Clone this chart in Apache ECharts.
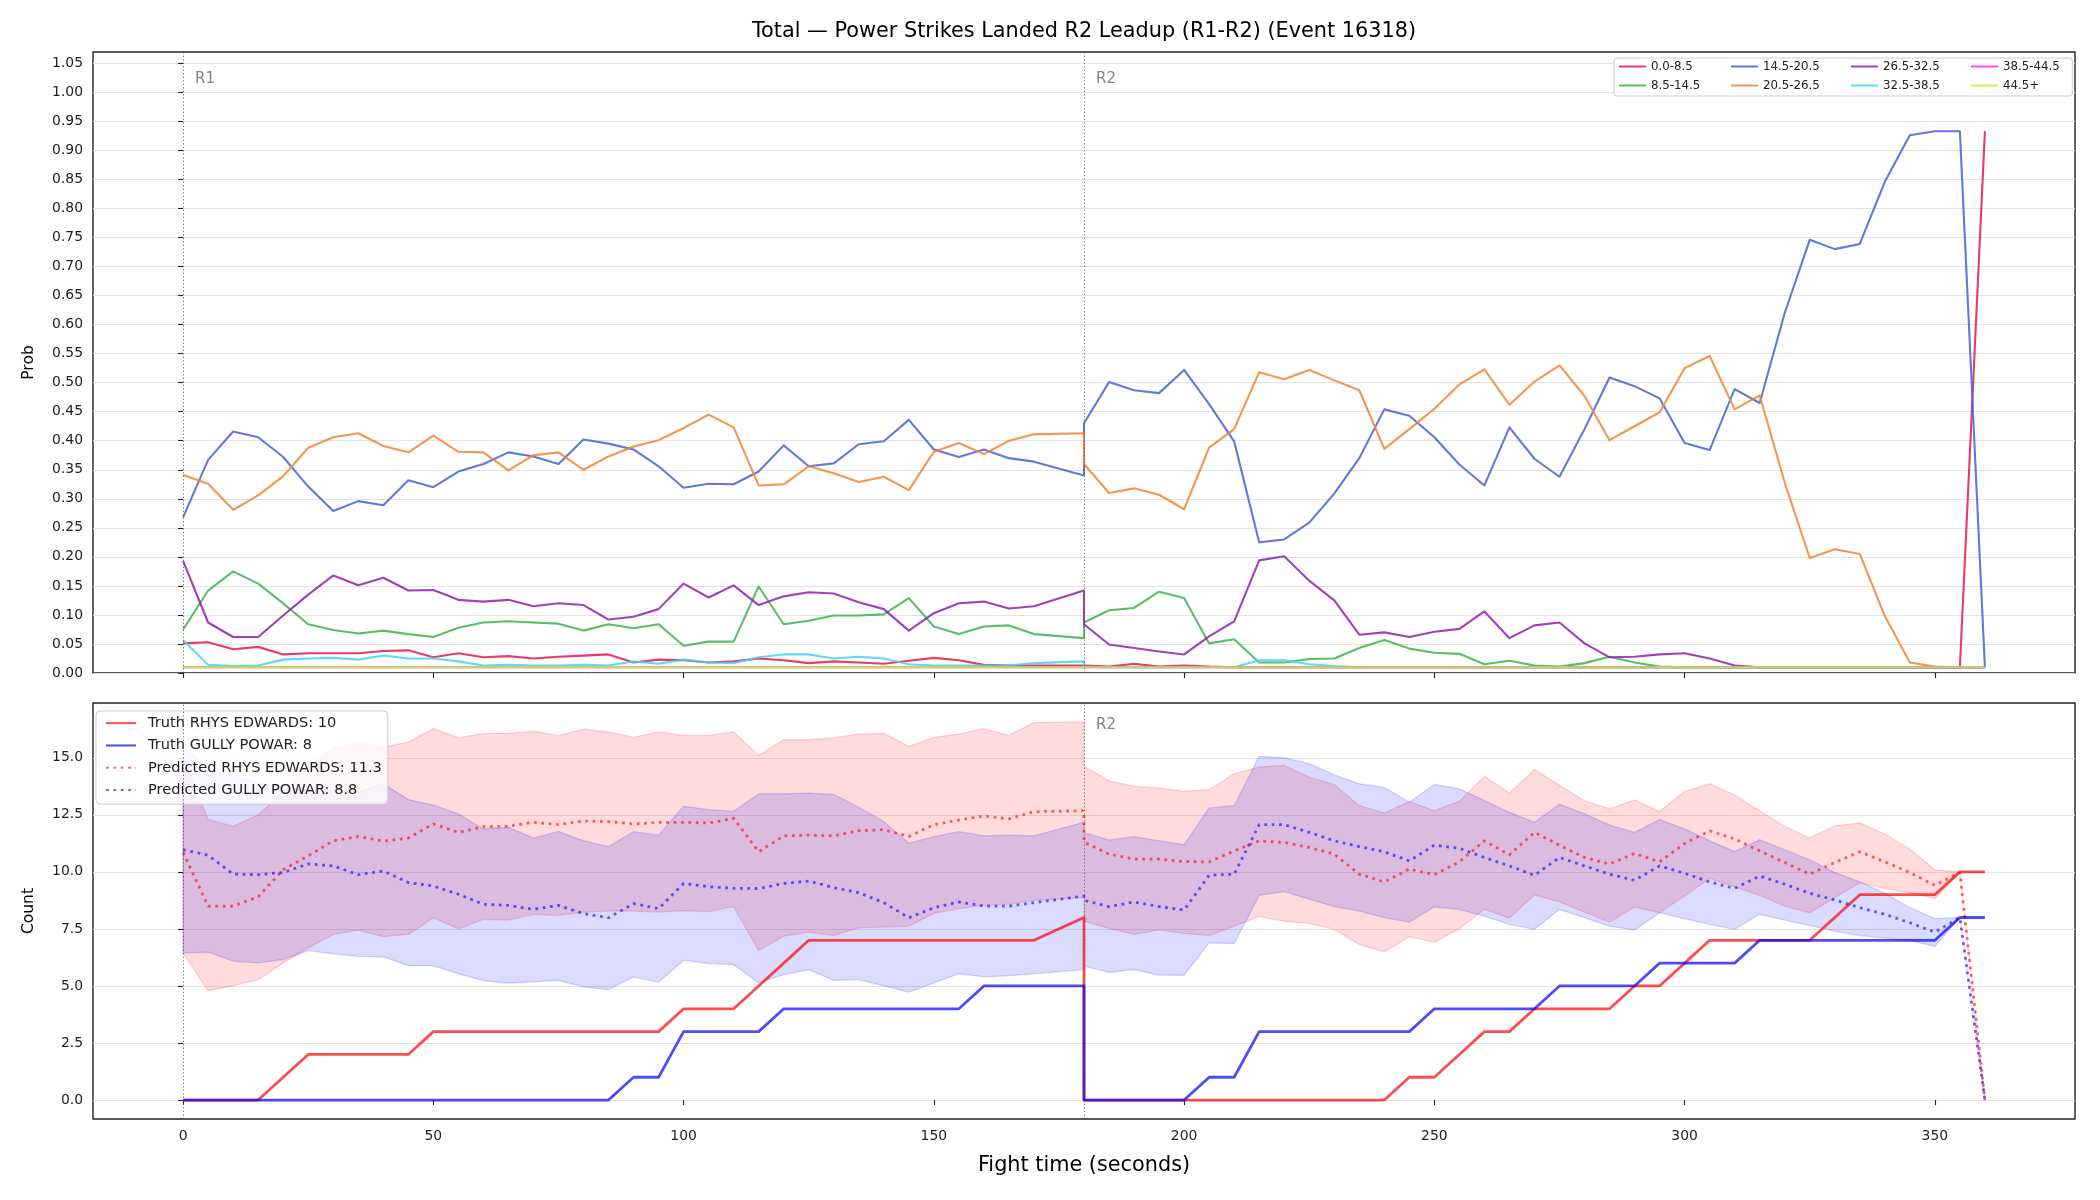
<!DOCTYPE html>
<html>
<head>
<meta charset="utf-8">
<title>Power Strikes Landed R2 Leadup</title>
<script src="https://cdn.jsdelivr.net/npm/echarts@6/dist/echarts.min.js"></script>
<style>
    html, body { margin: 0; padding: 0; background: #fff; }
    #chart_1 { width: 2100px; height: 1200px; }
</style>
</head>
<body>
<div id="chart_1"></div>
<script>
var FONT = 'DejaVu Sans';

// sample times (s): R1 has no sample at 175, R2 restarts at 180
var r1Times = [0,5,10,15,20,25,30,35,40,45,50,55,60,65,70,75,80,85,90,95,
    100,105,110,115,120,125,130,135,140,145,150,155,160,165,170,180];
var r2Times = [180,185,190,195,200,205,210,215,220,225,230,235,240,245,250,255,260,265,270,275,
    280,285,290,295,300,305,310,315,320,325,330,335,340,345,350,355,360];
var times = r1Times.concat(r2Times);

var xTicks = [0, 50, 100, 150, 200, 250, 300, 350];
var probTicks = [0, 0.05, 0.1, 0.15, 0.2, 0.25, 0.3, 0.35, 0.4, 0.45, 0.5, 0.55, 0.6, 0.65, 0.7,
    0.75, 0.8, 0.85, 0.9, 0.95, 1.0, 1.05];
var countTicks = [0, 2.5, 5, 7.5, 10, 12.5, 15];

var roundStarts = [0, 180];
var roundNames = ['R1', 'R2'];

// ---- top panel: bin probabilities (R1 rows, then R2 rows) ----
var binNames = ['0.0-8.5', '8.5-14.5', '14.5-20.5', '20.5-26.5', '26.5-32.5', '32.5-38.5', '38.5-44.5', '44.5+'];
var binColors = ['#e6194b', '#3cb44b', '#4363d8', '#f58231', '#911eb4', '#42d4f4', '#f032e6', '#bfef45'];

var p00 = [
    0.051,0.053,0.041,0.045,0.032,0.034,0.034,0.034,0.038,0.039,
    0.027,0.034,0.027,0.029,0.025,0.028,0.030,0.032,0.018,0.023,
    0.022,0.018,0.020,0.025,0.022,0.017,0.020,0.018,0.016,0.021,
    0.026,0.022,0.014,0.013,0.013,0.013,
    0.012,0.011,0.016,0.011,0.013,0.011,0.010,0.010,0.010,0.010,
    0.010,0.010,0.010,0.010,0.010,0.010,0.010,0.010,0.010,0.010,
    0.010,0.010,0.010,0.010,0.010,0.010,0.010,0.010,0.010,0.010,
    0.010,0.010,0.010,0.010,0.010,0.010,0.933];
var p08 = [
    0.075,0.142,0.175,0.154,0.120,0.084,0.074,0.068,0.073,0.067,
    0.062,0.078,0.087,0.089,0.087,0.085,0.073,0.084,0.077,0.084,
    0.047,0.054,0.054,0.149,0.084,0.090,0.099,0.099,0.101,0.129,
    0.080,0.067,0.080,0.082,0.067,0.060,
    0.087,0.108,0.112,0.140,0.129,0.051,0.058,0.018,0.018,0.024,
    0.025,0.043,0.057,0.042,0.035,0.033,0.015,0.021,0.013,0.011,
    0.017,0.028,0.018,0.011,0.010,0.010,0.010,0.010,0.010,0.010,
    0.010,0.010,0.010,0.010,0.010,0.010,0.010];
var p14 = [
    0.268,0.367,0.416,0.406,0.372,0.321,0.279,0.296,0.289,0.332,
    0.320,0.347,0.360,0.380,0.373,0.360,0.402,0.395,0.385,0.356,
    0.319,0.326,0.325,0.347,0.392,0.356,0.361,0.394,0.399,0.436,
    0.385,0.372,0.385,0.370,0.364,0.340,
    0.430,0.501,0.487,0.482,0.522,0.463,0.399,0.225,0.230,0.259,
    0.309,0.370,0.454,0.443,0.406,0.359,0.323,0.423,0.369,0.338,
    0.420,0.509,0.494,0.473,0.396,0.384,0.489,0.465,0.620,0.746,
    0.730,0.739,0.846,0.926,0.933,0.933,0.010];
var p20 = [
    0.341,0.326,0.281,0.306,0.339,0.388,0.406,0.413,0.391,0.380,
    0.409,0.381,0.380,0.349,0.375,0.380,0.350,0.373,0.390,0.401,
    0.422,0.445,0.423,0.323,0.325,0.356,0.344,0.329,0.338,0.315,
    0.381,0.396,0.377,0.400,0.411,0.413,
    0.360,0.310,0.318,0.307,0.282,0.388,0.420,0.518,0.506,0.522,
    0.504,0.487,0.386,0.420,0.455,0.497,0.523,0.462,0.502,0.530,
    0.477,0.401,0.425,0.449,0.525,0.546,0.454,0.478,0.328,0.198,
    0.213,0.205,0.098,0.018,0.011,0.010,0.010];
var p26 = [
    0.193,0.087,0.062,0.062,0.099,0.135,0.168,0.151,0.164,0.142,
    0.143,0.126,0.123,0.126,0.115,0.120,0.117,0.092,0.097,0.110,
    0.154,0.130,0.151,0.117,0.132,0.139,0.137,0.122,0.110,0.073,
    0.103,0.120,0.123,0.111,0.115,0.142,
    0.084,0.049,0.043,0.037,0.032,0.063,0.089,0.194,0.201,0.159,
    0.125,0.066,0.070,0.062,0.071,0.076,0.106,0.060,0.082,0.087,
    0.051,0.027,0.028,0.032,0.034,0.025,0.013,0.010,0.010,0.010,
    0.010,0.010,0.010,0.010,0.010,0.010,0.010];
var p32 = [
    0.057,0.014,0.012,0.013,0.023,0.025,0.026,0.023,0.030,0.025,
    0.025,0.020,0.013,0.014,0.013,0.013,0.014,0.013,0.020,0.016,
    0.023,0.018,0.017,0.027,0.032,0.032,0.025,0.028,0.025,0.015,
    0.013,0.013,0.013,0.013,0.017,0.020,
    0.011,0.010,0.010,0.010,0.010,0.010,0.010,0.022,0.022,0.015,
    0.012,0.010,0.010,0.010,0.010,0.010,0.010,0.010,0.010,0.010,
    0.010,0.010,0.010,0.010,0.010,0.010,0.010,0.010,0.010,0.010,
    0.010,0.010,0.010,0.010,0.010,0.010,0.010];
var p38 = [
    0.010,0.010,0.010,0.010,0.010,0.010,0.010,0.010,0.010,0.010,
    0.010,0.010,0.010,0.010,0.010,0.010,0.010,0.010,0.010,0.010,
    0.010,0.010,0.010,0.010,0.010,0.010,0.010,0.010,0.010,0.010,
    0.010,0.010,0.010,0.010,0.010,0.010,
    0.010,0.010,0.010,0.010,0.010,0.010,0.010,0.010,0.010,0.010,
    0.010,0.010,0.010,0.010,0.010,0.010,0.010,0.010,0.010,0.010,
    0.010,0.010,0.010,0.010,0.010,0.010,0.010,0.010,0.010,0.010,
    0.010,0.010,0.010,0.010,0.010,0.010,0.010];
var p44 = [
    0.010,0.010,0.010,0.010,0.010,0.010,0.010,0.010,0.010,0.010,
    0.010,0.010,0.010,0.010,0.010,0.010,0.010,0.010,0.010,0.010,
    0.010,0.010,0.010,0.010,0.010,0.010,0.010,0.010,0.010,0.010,
    0.010,0.010,0.010,0.010,0.010,0.010,
    0.010,0.010,0.010,0.010,0.010,0.010,0.010,0.010,0.010,0.010,
    0.010,0.010,0.010,0.010,0.010,0.010,0.010,0.010,0.010,0.010,
    0.010,0.010,0.010,0.010,0.010,0.010,0.010,0.010,0.010,0.010,
    0.010,0.010,0.010,0.010,0.010,0.010,0.010];

// ---- bottom panel: counts ----
var redName = 'RHYS EDWARDS', blueName = 'GULLY POWAR';
var redFinal = 10, blueFinal = 8, redPredFinal = 11.3, bluePredFinal = 8.8;

var truthRed = [
    0,0,0,0,1,2,2,2,2,2, 3,3,3,3,3,3,3,3,3,3, 4,4,4,5,6,7,7,7,7,7, 7,7,7,7,7,8,
    0,0,0,0,0,0,0,0,0,0, 0,0,0,1,1,2,3,3,4,4, 4,4,5,5,6,7,7,7,7,7, 8,9,9,9,9,10,10];
var truthBlue = [
    0,0,0,0,0,0,0,0,0,0, 0,0,0,0,0,0,0,0,1,1, 3,3,3,3,4,4,4,4,4,4, 4,4,5,5,5,5,
    0,0,0,0,0,1,1,3,3,3, 3,3,3,3,4,4,4,4,4,5, 5,5,5,6,6,6,6,7,7,7, 7,7,7,7,7,8,8];
var predRed = [
    10.85,8.50,8.50,8.91,10.10,10.70,11.36,11.55,11.35,11.48,
    12.10,11.73,11.98,12.00,12.17,12.07,12.23,12.20,12.10,12.17,
    12.17,12.14,12.35,10.88,11.58,11.61,11.58,11.80,11.85,11.55,
    12.07,12.27,12.45,12.32,12.64,12.68,
    11.30,10.78,10.56,10.56,10.45,10.44,10.92,11.36,11.29,11.07,
    10.78,9.90,9.56,10.12,9.88,10.44,11.36,10.75,11.73,11.17,
    10.63,10.34,10.81,10.44,11.24,11.80,11.44,10.92,10.41,9.90,
    10.41,10.88,10.44,9.97,9.41,9.97,0];
var predBlue = [
    10.97,10.73,9.90,9.88,9.97,10.35,10.26,9.88,10.04,9.53,
    9.38,9.02,8.58,8.53,8.36,8.53,8.17,7.99,8.61,8.39,
    9.49,9.35,9.28,9.27,9.49,9.60,9.31,9.09,8.65,7.99,
    8.43,8.68,8.50,8.50,8.65,8.94,
    8.75,8.48,8.68,8.48,8.33,9.85,9.90,12.07,12.07,11.73,
    11.36,11.11,10.88,10.48,11.17,11.03,10.63,10.26,9.85,10.63,
    10.26,9.90,9.63,10.26,9.94,9.56,9.27,9.82,9.46,9.06,
    8.77,8.43,8.14,7.77,7.36,8.00,0];
var redLo = [
    6.45,4.79,5.01,5.28,6.01,6.67,7.26,7.45,7.16,7.26,
    7.98,7.51,7.92,7.89,8.14,8.09,8.24,8.28,8.28,8.24,
    8.30,8.26,8.48,6.55,7.18,7.36,7.21,7.55,7.58,7.62,
    8.18,8.39,8.53,8.58,8.75,8.87,
    7.84,7.52,7.26,7.45,7.30,7.21,7.62,8.04,7.84,7.74,
    7.48,6.82,6.50,7.16,6.92,7.51,8.36,7.98,8.99,8.68,
    8.24,7.80,8.46,8.21,8.94,9.71,9.35,8.97,8.50,8.21,
    8.87,9.53,9.27,9.09,8.83,9.97,0];
var redHi = [
    15.00,12.30,12.00,12.50,13.50,14.60,15.40,15.66,15.47,15.69,
    16.28,15.88,16.06,16.07,16.16,15.98,16.25,16.13,15.89,16.13,
    15.98,15.98,16.13,15.10,15.79,15.79,15.87,16.04,16.07,15.50,
    15.89,16.04,16.28,15.98,16.54,16.57,
    14.62,13.99,13.75,13.67,13.53,13.60,14.30,14.59,14.66,14.15,
    13.83,12.90,12.58,13.08,12.68,13.09,14.19,13.45,14.49,13.78,
    13.12,12.76,13.15,12.65,13.53,13.86,13.37,12.68,11.99,11.48,
    12.02,12.14,11.66,11.00,10.09,10.00,0];
var blueLo = [
    6.45,6.48,6.09,6.01,6.16,6.55,6.41,6.30,6.28,5.89,
    5.89,5.54,5.23,5.13,5.18,5.25,4.96,4.84,5.40,5.16,
    6.13,5.98,5.94,5.13,5.50,5.72,5.25,5.28,5.01,4.72,
    5.13,5.54,5.40,5.45,5.53,5.72,
    5.87,5.60,5.72,5.48,5.47,6.89,6.86,8.97,9.13,8.80,
    8.48,8.28,7.99,7.80,8.46,8.36,8.06,7.70,7.48,8.36,
    7.99,7.62,7.45,8.21,7.95,7.70,7.48,8.14,7.89,7.65,
    7.40,7.21,7.11,6.99,6.74,8.00,0];
var blueHi = [
    15.50,14.50,14.20,13.90,13.70,13.60,13.60,13.50,13.86,13.17,
    12.93,12.54,11.88,11.95,11.48,11.77,11.36,11.11,11.76,11.61,
    12.87,12.73,12.65,13.42,13.42,13.45,13.39,12.83,12.21,11.25,
    11.54,11.76,11.58,11.61,11.58,12.17,
    11.73,11.39,11.54,11.36,11.19,12.80,12.90,15.06,15.00,14.74,
    14.25,13.86,13.70,13.05,13.83,13.64,13.12,12.61,12.17,12.96,
    12.54,12.05,11.73,12.29,11.88,11.36,10.89,11.41,10.97,10.53,
    9.97,9.56,9.06,8.43,7.95,8.00,0];

(function () {
    chart();
    function chart() {
        var myChart = echarts.init(document.getElementById('chart_1'), null, { renderer: 'canvas' });

        var probs = [p00, p08, p14, p20, p26, p32, p38, p44];
        function pairs(vals) {
            return times.map(function (t, i) { return [t, vals[i]]; });
        }

        var tickStyle = { color: '#222', width: 1.1 };
        var labelStyle = { fontFamily: FONT, fontSize: 13.9, color: '#222' };
        var gridLine = { show: true, lineStyle: { color: '#e3e3e3', width: 1 } };
        var vline = {
            silent: true, symbol: ['none', 'none'], animation: false,
            label: { show: false },
            lineStyle: { color: '#555', width: 1, type: [1.3, 2.2], opacity: 0.8 },
            data: roundStarts.map(function (x) { return { xAxis: x }; })
        };

        function roundLabels(axisIdx, yPos, names) {
            return {
                type: 'scatter', xAxisIndex: axisIdx, yAxisIndex: axisIdx, symbolSize: 0,
                silent: true, animation: false, z: 1,
                data: roundStarts.map(function (x, i) { return [x + 2.4, yPos, names[i]]; }),
                label: {
                    show: true, position: 'right', distance: 0,
                    formatter: function (p) { return p.value[2]; },
                    fontFamily: FONT, fontSize: 15, color: '#666'
                }
            };
        }

        var series = [];
        binNames.forEach(function (name, k) {
            var s = {
                name: name, type: 'line', xAxisIndex: 0, yAxisIndex: 0,
                symbol: 'none', animation: false,
                lineStyle: { width: 2.1, color: binColors[k], opacity: 0.85, join: 'round' },
                itemStyle: { color: binColors[k] },
                data: pairs(probs[k])
            };
            if (k === 0) s.markLine = vline;
            series.push(s);
        });
        series.push(roundLabels(0, 1.023, roundNames));

        // bands drawn as one polygon each, through the axis scales
        function band(lo, hi, fill, stroke) {
            return {
                type: 'custom', xAxisIndex: 1, yAxisIndex: 1, silent: true, animation: false,
                data: times.map(function (t, i) { return [t, lo[i], hi[i]]; }),
                encode: { x: 0, y: [1, 2] },
                renderItem: function (params, api) {
                    if (params.dataIndex !== 0) return null;
                    var pts = [];
                    for (var i = 0; i < times.length; i++) pts.push(api.coord([times[i], hi[i]]));
                    for (var j = times.length - 1; j >= 0; j--) pts.push(api.coord([times[j], lo[j]]));
                    return {
                        type: 'polygon', shape: { points: pts },
                        style: { fill: fill, stroke: stroke, lineWidth: 1.3 }
                    };
                }
            };
        }
        var redBand = band(redLo, redHi, 'rgba(255,0,0,0.14)', 'rgba(255,0,0,0.16)');
        redBand.markLine = vline;
        series.push(redBand);
        series.push(band(blueLo, blueHi, 'rgba(0,0,255,0.14)', 'rgba(0,0,255,0.16)'));

        var names = [
            'Truth ' + redName + ': ' + redFinal,
            'Truth ' + blueName + ': ' + blueFinal,
            'Predicted ' + redName + ': ' + redPredFinal,
            'Predicted ' + blueName + ': ' + bluePredFinal
        ];
        function countLine(name, vals, color, opacity, dotted) {
            return {
                name: name, type: 'line', xAxisIndex: 1, yAxisIndex: 1,
                symbol: 'none', animation: false,
                lineStyle: {
                    width: 2.78, color: color, opacity: opacity, join: 'round',
                    type: dotted ? [2.78, 4.6] : 'solid', cap: 'butt'
                },
                itemStyle: { color: color },
                data: pairs(vals)
            };
        }
        series.push(countLine(names[0], truthRed, '#ff0000', 0.7, false));
        series.push(countLine(names[2], predRed, '#ff0000', 0.6, true));
        series.push(countLine(names[1], truthBlue, '#0000ff', 0.7, false));
        series.push(countLine(names[3], predBlue, '#0000ff', 0.6, true));
        series.push(roundLabels(1, 16.45, roundNames));

        // top legend: one small vertical legend per column (2 bins each);
        // the first one carries the frame for the whole block
        var colLefts = [1614, 1730, 1850, 1970];
        var topLegends = colLefts.map(function (x, c) {
            var lg = {
                data: [binNames[2 * c], binNames[2 * c + 1]],
                orient: 'vertical', left: x, top: 60.5, padding: 0,
                itemGap: 7, itemWidth: 27, itemHeight: 14, selectedMode: false,
                itemStyle: { opacity: 0 }, z: 5,
                textStyle: { fontFamily: FONT, fontSize: 11.8, color: '#222' }
            };
            if (c === 0) {
                lg.top = 58;
                lg.padding = [2.5, 372, 4.5, 4];
                lg.z = 4;
                lg.backgroundColor = 'rgba(255,255,255,0.8)';
                lg.borderColor = '#cccccc';
                lg.borderWidth = 1;
                lg.borderRadius = 3;
            }
            return lg;
        });

        var option = {
            backgroundColor: '#ffffff',
            animation: false,
            title: {
                text: 'Total \u2014 Power Strikes Landed R2 Leadup (R1-R2) (Event 16318)',
                left: 1084, top: 21, textAlign: 'center', padding: 0,
                textStyle: { fontFamily: FONT, fontSize: 20.8, fontWeight: 'normal', color: '#000' }
            },
            grid: [
                { left: 93, top: 52, width: 1982, height: 621, show: true, borderColor: '#222', borderWidth: 1.4, backgroundColor: 'transparent' },
                { left: 93, top: 703, width: 1982, height: 416, show: true, borderColor: '#222', borderWidth: 1.4, backgroundColor: 'transparent' }
            ],
            legend: topLegends.concat([
                {
                    data: names, orient: 'vertical', left: 96, top: 711,
                    padding: [1, 6, 3, 9], itemGap: 0, itemWidth: 30, itemHeight: 14,
                    selectedMode: false,
                    itemStyle: { opacity: 0 },
                    textStyle: { fontFamily: FONT, fontSize: 14.6, color: '#222', lineHeight: 22.3, padding: [0, 0, 0, 7] },
                    backgroundColor: 'rgba(255,255,255,0.8)', borderColor: '#cccccc', borderWidth: 1, borderRadius: 4
                }
            ]),
            xAxis: [
                {
                    gridIndex: 0, type: 'value', min: -18, max: 378,
                    axisLine: { show: false },
                    axisTick: { show: true, customValues: xTicks, length: 5, lineStyle: tickStyle },
                    axisLabel: { show: false },
                    splitLine: { show: false }
                },
                {
                    gridIndex: 1, type: 'value', min: -18, max: 378,
                    axisLine: { show: false },
                    axisTick: { show: true, customValues: xTicks, length: 5, lineStyle: tickStyle },
                    axisLabel: Object.assign({ show: true, customValues: xTicks, margin: 10 }, labelStyle),
                    splitLine: { show: false },
                    name: 'Fight time (seconds)', nameLocation: 'middle', nameGap: 36,
                    nameTextStyle: { fontFamily: FONT, fontSize: 20.8, color: '#000' }
                }
            ],
            yAxis: [
                {
                    gridIndex: 0, type: 'value', min: 0, max: 1.0695,
                    axisLine: { show: false },
                    axisTick: { show: true, customValues: probTicks, length: 5, lineStyle: tickStyle },
                    axisLabel: Object.assign({
                        customValues: probTicks, margin: 10,
                        formatter: function (v) { return v.toFixed(2); }
                    }, labelStyle),
                    splitLine: gridLine,
                    name: 'Prob', nameLocation: 'middle', nameGap: 56,
                    nameTextStyle: { fontFamily: FONT, fontSize: 15.5, color: '#000' }
                },
                {
                    gridIndex: 1, type: 'value', min: -0.83, max: 17.4,
                    axisLine: { show: false },
                    axisTick: { show: true, customValues: countTicks, length: 5, lineStyle: tickStyle },
                    axisLabel: Object.assign({
                        customValues: countTicks, margin: 10,
                        formatter: function (v) { return v.toFixed(1); }
                    }, labelStyle),
                    splitLine: gridLine,
                    name: 'Count', nameLocation: 'middle', nameGap: 56,
                    nameTextStyle: { fontFamily: FONT, fontSize: 15.5, color: '#000' }
                }
            ],
            series: series
        };

        myChart.setOption(option);
        window.addEventListener('resize', function () {
            myChart.resize();
        });
    }
})();
</script>
</body>
</html>
